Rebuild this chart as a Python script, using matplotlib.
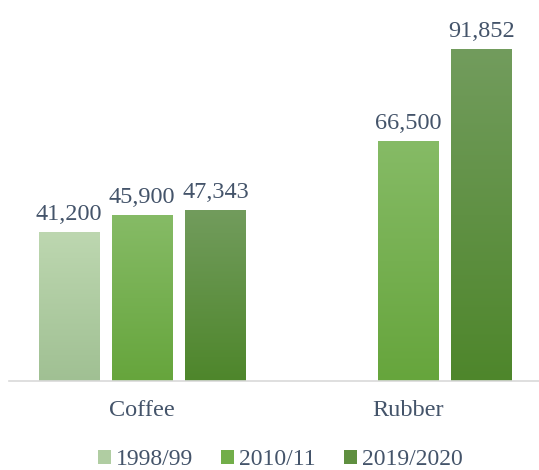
import numpy as np
import matplotlib.pyplot as plt
from matplotlib.colors import LinearSegmentedColormap
from matplotlib.patches import Patch

categories = ["Coffee", "Rubber"]
seasons = ["1998/99", "2010/11", "2019/2020"]
values_1998 = [41200, np.nan]
values_2010 = [45900, 66500]
values_2019 = [47343, 91852]

# top -> bottom gradient colours per season
grad = {
    "1998/99": ("#BDD7B0", "#A0C093"),
    "2010/11": ("#86BB66", "#66A53C"),
    "2019/2020": ("#729C5D", "#4E862B"),
}
legend_col = {"1998/99": "#B0CDA2", "2010/11": "#72AE49", "2019/2020": "#5F8F40"}
text_col = "#44546A"

plt.rcParams["font.family"] = ["Liberation Serif", "DejaVu Serif"]

fig = plt.figure(figsize=(5.39, 4.70), dpi=100)
ax = fig.add_axes([9 / 539, 89 / 470, 532 / 539, 371 / 470])

x = np.arange(len(categories))
width = 0.226
step = 0.276
series = [values_1998, values_2010, values_2019]

for i, (season, vals) in enumerate(zip(seasons, series)):
    pos = x + (i - 1) * step
    bars = ax.bar(pos, vals, width, facecolor="none", edgecolor="none")
    cmap = LinearSegmentedColormap.from_list(season, [grad[season][1], grad[season][0]])
    for b, v in zip(bars, vals):
        if np.isnan(v):
            continue
        x0 = b.get_x()
        img = ax.imshow(np.linspace(0, 1, 256).reshape(-1, 1), cmap=cmap, origin="lower",
                        extent=(x0, x0 + width, 0, v), aspect="auto", zorder=2)
        img.set_clip_path(b)
        ax.annotate(f"{v:,.0f}", (b.get_x() + width / 2, v), xytext=(0, 5),
                    textcoords="offset points", ha="center", va="bottom",
                    fontsize=17.5, color=text_col)

ax.set_xlim(-0.5, 1.5)
ax.set_ylim(0, 102650)
ax.set_xticks(x)
ax.set_xticklabels(categories, fontsize=17.5, color=text_col)
ax.tick_params(axis="x", length=0, pad=14)
ax.set_yticks([])
for s in ["top", "right", "left"]:
    ax.spines[s].set_visible(False)
ax.spines["bottom"].set_color("#D9D9D9")
ax.spines["bottom"].set_linewidth(1.2)

handles = [Patch(facecolor=legend_col[s], label=s) for s in seasons]
fig.legend(handles=handles, loc="center", bbox_to_anchor=(0.52, 0.022), ncol=3,
           frameon=False, fontsize=17, handlelength=0.55, handleheight=0.55,
           handletextpad=0.2, columnspacing=1.2, labelcolor=text_col)

fig.savefig("out.png", dpi=100)
